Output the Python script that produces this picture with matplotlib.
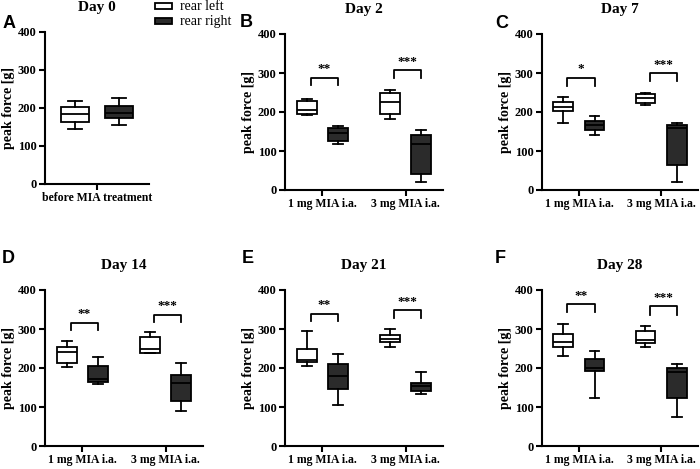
import matplotlib
matplotlib.use("Agg")
import matplotlib.pyplot as plt
from matplotlib.patches import Rectangle

plt.rcParams['font.family'] = ['Liberation Serif', 'DejaVu Serif']
plt.rcParams['font.weight'] = 'bold'

W, H = 700, 469

# box stats per panel: [whislo, q1, med, q3, whishi]
titles = ["Day 0", "Day 2", "Day 7", "Day 14", "Day 21", "Day 28"]
letters = ["A", "B", "C", "D", "E", "F"]
groups = ["1 mg MIA i.a.", "3 mg MIA i.a."]

day0_left = [146, 164, 185, 203, 219]
day0_right = [156, 173, 187, 206, 227]

left_stats = {
    "Day 2":  [[192, 194, 206, 227, 234], [182, 194, 226, 249, 256]],
    "Day 7":  [[172, 203, 213, 225, 239], [218, 222, 236, 245, 249]],
    "Day 14": [[203, 213, 241, 254, 268], [238, 238, 248, 279, 292]],
    "Day 21": [[205, 215, 220, 248, 295], [254, 266, 274, 284, 299]],
    "Day 28": [[231, 254, 267, 286, 313], [254, 265, 272, 295, 308]],
}
right_stats = {
    "Day 2":  [[117, 125, 146, 159, 164], [20, 42, 117, 140, 153]],
    "Day 7":  [[142, 153, 166, 177, 189], [21, 65, 158, 166, 171]],
    "Day 14": [[158, 164, 173, 205, 227], [90, 115, 161, 183, 212]],
    "Day 21": [[104, 147, 179, 210, 236], [133, 142, 154, 162, 190]],
    "Day 28": [[123, 192, 200, 223, 243], [74, 123, 190, 201, 209]],
}
# significance brackets: (bar height, leg bottom, stars) per group
sig = {
    "Day 2":  [(288, 269, "**"), (307, 288, "***")],
    "Day 7":  [(288, 267, "*"), (299, 279, "***")],
    "Day 14": [(316, 297, "**"), (337, 317, "***")],
    "Day 21": [(339, 320, "**"), (348, 329, "***")],
    "Day 28": [(364, 344, "**"), (359, 337, "***")],
}

# axes boxes in pixels: left, right, top(400), bottom(0)
axes_px = {
    "Day 0":  (45, 149, 32, 184),
    "Day 2":  (285, 443, 34, 190),
    "Day 7":  (542, 698, 34, 190),
    "Day 14": (45, 203, 290, 446),
    "Day 21": (285, 443, 290, 446),
    "Day 28": (542, 698, 290, 446),
}
letter_px = [(3, 28), (240, 27), (495, 28), (2, 263), (242, 263), (495, 263)]
title_y = [8, 10, 10, 266, 266, 266]

DARK = "#2b2b2b"


def stat(v):
    return dict(whislo=v[0], q1=v[1], med=v[2], q3=v[3], whishi=v[4], fliers=[])


def draw_boxes(ax, stats, positions, width, face):
    ax.bxp([stat(s) for s in stats], positions=positions, widths=width,
           showfliers=False, patch_artist=True,
           boxprops=dict(facecolor=face, edgecolor="black", linewidth=1.3),
           medianprops=dict(color="black", linewidth=1.3),
           whiskerprops=dict(color="black", linewidth=1.3),
           capprops=dict(color="black", linewidth=1.3),
           capwidths=width * 0.5)


def style(ax):
    for s in ["top", "right"]:
        ax.spines[s].set_visible(False)
    for s in ["left", "bottom"]:
        ax.spines[s].set_linewidth(1.5)
    ax.set_ylim(0, 400)
    ax.set_yticks([0, 100, 200, 300, 400])
    ax.tick_params(width=1.5, length=4, labelsize=9, pad=2)
    ax.tick_params(axis="x", labelsize=8.5)
    for lab in ax.get_yticklabels() + ax.get_xticklabels():
        lab.set_fontweight("bold")
    ax.set_ylabel("peak force [g]", fontsize=10, fontweight="bold", labelpad=2)


fig = plt.figure(figsize=(W / 100, H / 100), dpi=100)

for i, t in enumerate(titles):
    l, r, top, bot = axes_px[t]
    ax = fig.add_axes([l / W, 1 - bot / H, (r - l) / W, (bot - top) / H])
    if t == "Day 0":
        draw_boxes(ax, [day0_left], [-0.21], 0.27, "white")
        draw_boxes(ax, [day0_right], [0.21], 0.27, DARK)
        ax.set_xlim(-0.5, 0.5)
        ax.set_xticks([0])
        ax.set_xticklabels(["before MIA treatment"])
    else:
        draw_boxes(ax, left_stats[t], [-0.19, 0.81], 0.24, "white")
        draw_boxes(ax, right_stats[t], [0.19, 1.19], 0.24, DARK)
        ax.set_xlim(-0.45, 1.45)
        ax.set_xticks([0, 1])
        ax.set_xticklabels(groups)
        for g, (yb, yl, stars) in enumerate(sig[t]):
            x0, x1 = g - 0.14, g + 0.19
            ax.plot([x0, x0, x1, x1], [yl, yb, yb, yl], color="black", lw=1.3)
            ax.text((x0 + x1) / 2, yb + 6, stars, ha="center", va="bottom",
                    fontsize=9.5, fontweight="bold")
    style(ax)
    ax.patch.set_alpha(0)
    fig.text((l + r) / 2 / W, 1 - title_y[i] / H, t, ha="center", va="center",
             fontsize=11, fontweight="bold")
    lx, ly = letter_px[i]
    fig.text(lx / W, 1 - ly / H, letters[i], ha="left", va="baseline",
             fontsize=13, fontweight="bold", family="Liberation Sans")

# legend next to panel A
fig.patches.append(Rectangle((155 / W, 1 - 9.5 / H), 17 / W, 6 / H, transform=fig.transFigure,
                             facecolor="white", edgecolor="black", lw=1.3))
fig.patches.append(Rectangle((155 / W, 1 - 24 / H), 17 / W, 6 / H, transform=fig.transFigure,
                             facecolor=DARK, edgecolor="black", lw=1.3))
fig.text(180 / W, 1 - 7 / H, "rear left", ha="left", va="center", fontsize=10, fontweight="normal")
fig.text(180 / W, 1 - 21.5 / H, "rear right", ha="left", va="center", fontsize=10, fontweight="normal")

fig.savefig("out.png", dpi=100)
